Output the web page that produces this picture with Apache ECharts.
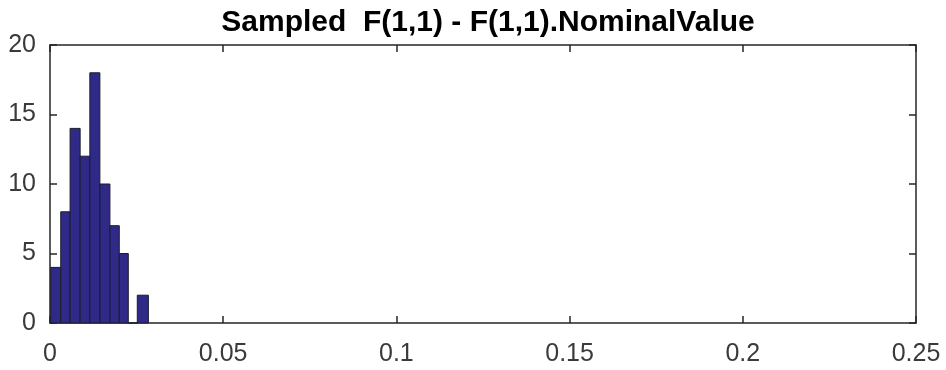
<!DOCTYPE html>
<html>
<head>
<meta charset="utf-8">
<script src="https://cdn.jsdelivr.net/npm/echarts@6/dist/echarts.min.js"></script>
<style>html,body{margin:0;padding:0;background:#fff}#c{width:946px;height:370px}</style>
</head>
<body>
<div id="c"></div>
<script>
var titleText = 'Sampled  F(1,1) - F(1,1).NominalValue';
var binStarts = [0.0002, 0.0031, 0.0058, 0.0087, 0.0115, 0.0144, 0.0173, 0.0200, 0.0226, 0.0252];
var binEnds   = [0.0031, 0.0058, 0.0087, 0.0115, 0.0144, 0.0173, 0.0200, 0.0226, 0.0252, 0.0284];
var counts    = [4, 8, 14, 12, 18, 10, 7, 5, 0, 2];
var xTicks = [0, 0.05, 0.1, 0.15, 0.2, 0.25];
var yTicks = [0, 5, 10, 15, 20];

var data = counts.map(function (c, i) { return [binStarts[i], binEnds[i], c]; });
var axisColor = '#262626';
var labelStyle = { color: '#3a3a3a', fontSize: 25, fontFamily: 'Liberation Sans, Arial, sans-serif' };

function frameAxis(extra) {
  return Object.assign({
    axisLine: { show: true, onZero: false, lineStyle: { color: axisColor, width: 1.5 } },
    axisTick: { show: true, inside: true, length: 7, lineStyle: { color: axisColor, width: 1.5 } },
    splitLine: { show: false }
  }, extra);
}

var chart = echarts.init(document.getElementById('c'), null, { renderer: 'canvas' });
chart.setOption({
  animation: false,
  backgroundColor: '#fff',
  title: {
    text: titleText,
    left: 483, top: 3, textAlign: 'center',
    textStyle: { fontSize: 30, fontWeight: 'bold', color: '#000', fontFamily: 'Liberation Sans, Arial, sans-serif' }
  },
  grid: { left: 50, right: 30, top: 45, bottom: 47, containLabel: false },
  xAxis: [
    frameAxis({
      type: 'value', position: 'bottom', min: xTicks[0], max: xTicks[xTicks.length - 1], interval: 0.05,
      axisLabel: Object.assign({ margin: 19, formatter: function (v) { return String(+v.toFixed(2)); } }, labelStyle)
    }),
    frameAxis({
      type: 'value', position: 'top', min: xTicks[0], max: xTicks[xTicks.length - 1], interval: 0.05,
      axisLabel: { show: false }
    })
  ],
  yAxis: [
    frameAxis({
      type: 'value', position: 'left', min: yTicks[0], max: yTicks[yTicks.length - 1], interval: 5,
      axisLabel: Object.assign({ margin: 14, verticalAlign: 'middle', lineHeight: 30, padding: [10, 0, 0, 0] }, labelStyle)
    }),
    frameAxis({
      type: 'value', position: 'right', min: yTicks[0], max: yTicks[yTicks.length - 1], interval: 5,
      axisLabel: { show: false }
    })
  ],
  series: [{
    type: 'custom',
    xAxisIndex: 0, yAxisIndex: 0,
    data: data,
    encode: { x: [0, 1], y: 2 },
    renderItem: function (params, api) {
      var p0 = api.coord([api.value(0), api.value(2)]);
      var p1 = api.coord([api.value(1), 0]);
      return {
        type: 'rect',
        shape: { x: p0[0], y: p0[1], width: p1[0] - p0[0], height: p1[1] - p0[1] },
        style: { fill: '#2f2a88', stroke: '#1c1c2a', lineWidth: 1 }
      };
    }
  }]
});
</script>
</body>
</html>
